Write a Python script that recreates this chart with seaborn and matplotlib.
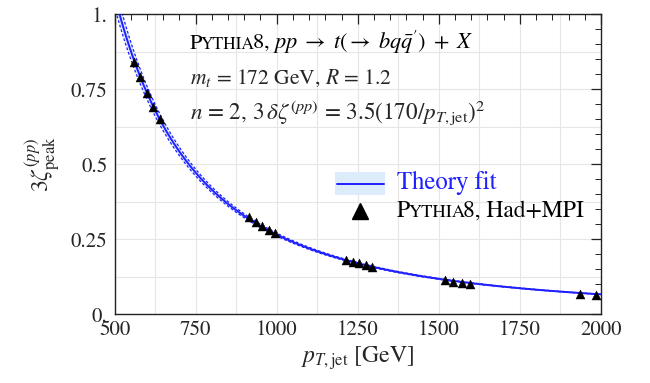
import numpy as np
import pandas as pd
import matplotlib
matplotlib.use("Agg")
import matplotlib.pyplot as plt
import seaborn as sns
from matplotlib.offsetbox import TextArea, HPacker, AnchoredOffsetbox
from matplotlib.lines import Line2D
from matplotlib.patches import Rectangle

# Pythia8 (Had+MPI) peak positions per jet-pT sample
pt_jet = [560, 580, 600, 620, 640,
          915, 935, 955, 975, 995,
          1215, 1235, 1255, 1275, 1295,
          1520, 1545, 1570, 1595,
          1935, 1985]
zeta_peak = [0.841, 0.791, 0.738, 0.691, 0.651,
             0.324, 0.308, 0.294, 0.281, 0.271,
             0.181, 0.174, 0.170, 0.164, 0.158,
             0.114, 0.108, 0.105, 0.101,
             0.069, 0.065]

# theory band expressed as a shift in jet pT [GeV]
band_dpt = 9.0

x_ticks = [500, 750, 1000, 1250, 1500, 1750, 2000]
y_ticks = [0.0, 0.25, 0.5, 0.75, 1.0]
y_tick_labels = ["0.", "0.25", "0.5", "0.75", "1."]

sns.set_style("white")
plt.rcParams.update({
    "font.family": ["STIXGeneral", "DejaVu Serif"],
    "mathtext.fontset": "stix",
    "axes.linewidth": 1.0,
    "axes.edgecolor": "#222222",
})

df = pd.DataFrame({"pt": pt_jet, "zeta": zeta_peak})

# 1/pT^2 scaling fitted to the samples
x = np.asarray(pt_jet, float)
y = np.asarray(zeta_peak, float)
norm = np.sum(y / x**2) / np.sum(1 / x**4)
pt_grid = np.linspace(500, 2000, 400)
fit = pd.DataFrame({"pt": pt_grid, "zeta": norm / pt_grid**2})
fit["lo"] = norm / (pt_grid + band_dpt)**2
fit["hi"] = norm / (pt_grid - band_dpt)**2

W, H = 650, 383
fig = plt.figure(figsize=(W / 100, H / 100), dpi=100)
ax = fig.add_axes([114.5 / W, 1 - 314.3 / H, (601 - 114.5) / W, (314.3 - 14.3) / H])

blue = "#1f1fff"
band_fill = "#dcecfc"

ax.fill_between(fit["pt"], fit["lo"], fit["hi"], color=band_fill, lw=0, zorder=1)
sns.lineplot(data=fit, x="pt", y="lo", ax=ax, color=blue, lw=0.9, ls=(0, (2.2, 1.6)), zorder=2)
sns.lineplot(data=fit, x="pt", y="hi", ax=ax, color=blue, lw=0.9, ls=(0, (2.2, 1.6)), zorder=2)
sns.lineplot(data=fit, x="pt", y="zeta", ax=ax, color=blue, lw=1.4, zorder=3)
sns.scatterplot(data=df, x="pt", y="zeta", ax=ax, marker="^", s=42, color="black",
                edgecolor="black", linewidth=0.3, zorder=4)

ax.set_xlim(500, 2000)
ax.set_ylim(0, 1)
ax.set_xticks(x_ticks)
ax.set_xticks(np.arange(500, 2001, 50), minor=True)
ax.set_yticks(y_ticks)
ax.set_yticklabels(y_tick_labels)
ax.set_yticks(np.arange(0, 1.001, 0.05), minor=True)

# light grid
for gx in np.arange(625, 2000, 125):
    ax.axvline(gx, color="#e6e6e6", lw=0.8, zorder=0)
for gy in np.arange(0.125, 1.0, 0.125):
    ax.axhline(gy, color="#e6e6e6", lw=0.8, zorder=0)

ax.tick_params(which="both", direction="in", top=True, right=True, color="#222222",
               labelsize=15, pad=4)
ax.tick_params(which="major", length=7, width=0.9)
ax.tick_params(which="minor", length=4, width=0.7)
ax.tick_params(axis="y", pad=5)

ax.set_xlabel(r"$p_{T,\mathrm{jet}}$ [GeV]", fontsize=17, labelpad=3)
ax.set_ylabel(r"$3\zeta_{\mathrm{peak}}^{(pp)}$", fontsize=17, labelpad=6)


def smallcaps_row(parts, size, color="black"):
    """parts: list of (text, scale) pieces set on a common baseline."""
    kids = [TextArea(t, textprops=dict(fontsize=size * s, color=color,
                                       family=["STIXGeneral", "DejaVu Serif"]))
            for t, s in parts]
    return HPacker(children=kids, align="baseline", pad=0, sep=-1.4)


def place(box, px, py):
    anch = AnchoredOffsetbox(loc="lower left", child=box, pad=0, borderpad=0,
                             frameon=False, bbox_to_anchor=(px / W, 1 - py / H),
                             bbox_transform=fig.transFigure)
    fig.add_artist(anch)


sc = 0.78
fs = 15.5
place(smallcaps_row([("P", 1), ("YTHIA", sc),
                     (r"8, $pp\;\to\;t(\to\;bq\bar{q}')\;+\;X$", 1)], fs + 0.6), 190, 56)
fig.text(190 / W, 1 - 84 / H, r"$m_t$ = 172 GeV, $R$ = 1.2", fontsize=fs,
         ha="left", va="baseline")
fig.text(190 / W, 1 - 120 / H,
         r"$n$ = 2, 3$\,\delta\zeta^{(pp)}$ = 3.5(170/$p_{T,\mathrm{jet}}$)$^{2}$",
         fontsize=fs + 1.2, ha="left", va="baseline")

# legend
fig.add_artist(Rectangle((335 / W, 1 - 195 / H), 50 / W, 23 / H, transform=fig.transFigure,
                         facecolor=band_fill, edgecolor="none"))
fig.add_artist(Line2D([337 / W, 384 / W], [1 - 183.5 / H] * 2, transform=fig.transFigure,
                      color=blue, lw=1.4))
fig.text(397 / W, 1 - 189 / H, "Theory fit", fontsize=17.8, color=blue,
         ha="left", va="baseline")
fig.add_artist(Line2D([360 / W], [1 - 211 / H], transform=fig.transFigure, marker="^",
                      markersize=11.5, color="black", lw=0))
place(smallcaps_row([("P", 1), ("YTHIA", sc), ("8, Had+MPI", 1)], 17.0), 397, 222)

fig.savefig("out.png", dpi=100)
